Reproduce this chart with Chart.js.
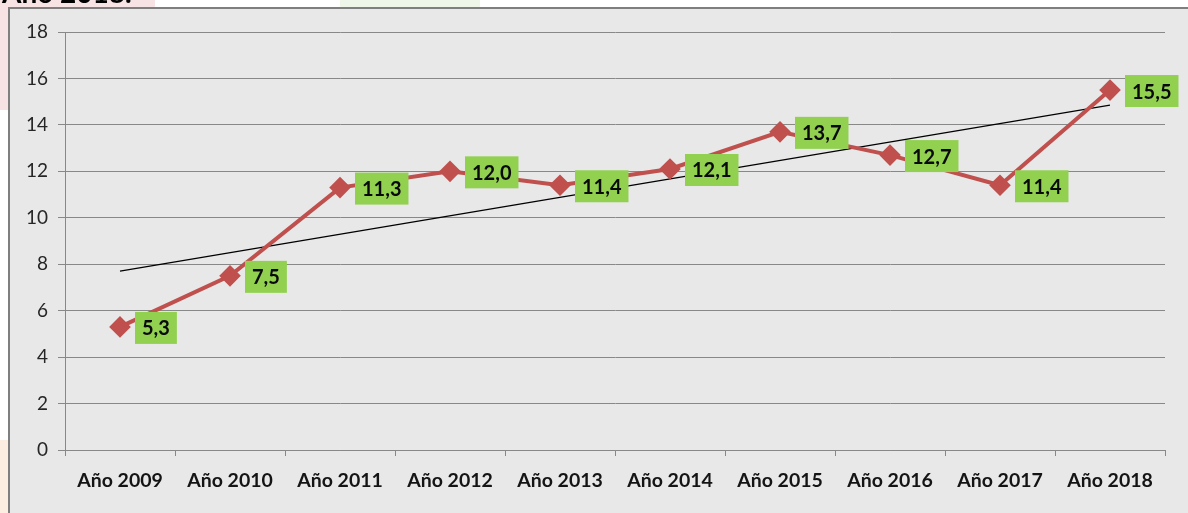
<!DOCTYPE html>
<html>
<head>
<meta charset="utf-8">
<script src="https://cdn.jsdelivr.net/npm/chart.js@4"></script>
<style>
  html, body { margin: 0; padding: 0; background: #ffffff; }
  #wrap { width: 1188px; height: 513px; position: relative; }
</style>
</head>
<body>
<div id="wrap"><canvas id="c" width="1188" height="513"></canvas></div>
<script>
const categories = ['Año 2009','Año 2010','Año 2011','Año 2012','Año 2013','Año 2014','Año 2015','Año 2016','Año 2017','Año 2018'];
const values = [5.3, 7.5, 11.3, 12.0, 11.4, 12.1, 13.7, 12.7, 11.4, 15.5];
const trendValues = [7.7, null, null, null, null, null, null, null, null, 14.85];
const valueLabels = ['5,3','7,5','11,3','12,0','11,4','12,1','13,7','12,7','11,4','15,5'];
const yTicks = [0, 2, 4, 6, 8, 10, 12, 14, 16, 18];
const titleText = 'Año 2018.';

const framePlugin = {
  id: 'frame',
  beforeDraw(chart) {
    const ctx = chart.ctx;
    ctx.save();
    ctx.fillStyle = '#ffffff';
    ctx.fillRect(0, 0, 1188, 513);
    // slide decoration behind
    ctx.fillStyle = '#f7e3e3';
    ctx.fillRect(0, 0, 155, 8);
    ctx.fillRect(0, 0, 9, 110);
    ctx.fillStyle = '#fcefe2';
    ctx.fillRect(0, 440, 9, 73);
    ctx.fillStyle = '#eef6ea';
    ctx.fillRect(340, 0, 140, 8);
    // frame
    ctx.fillStyle = '#e8e8e8';
    ctx.fillRect(9, 8, 1188, 513);
    ctx.strokeStyle = '#7f7f7f';
    ctx.lineWidth = 2;
    ctx.strokeRect(9, 8, 1200, 520);
    // title (cut at top)
    ctx.fillStyle = '#000000';
    ctx.font = 'bold 28px Lato, "DejaVu Sans", sans-serif';
    ctx.textBaseline = 'alphabetic';
    ctx.textAlign = 'left';
    ctx.fillText(titleText, 2, 3);
    ctx.restore();
  }
};

const labelPlugin = {
  id: 'valueLabels',
  afterDatasetsDraw(chart) {
    const ctx = chart.ctx;
    const meta = chart.getDatasetMeta(0);
    ctx.save();
    ctx.font = 'bold 20px Lato, "DejaVu Sans", sans-serif';
    ctx.textBaseline = 'middle';
    ctx.textAlign = 'left';
    meta.data.forEach((pt, i) => {
      const txt = valueLabels[i];
      const w = ctx.measureText(txt).width + 14;
      const h = 32;
      const x = pt.x + 15;
      const y = pt.y + 1 - h / 2;
      ctx.fillStyle = '#92d050';
      ctx.fillRect(x, y, w, h);
      ctx.fillStyle = '#0a0a0a';
      ctx.fillText(txt, x + 7, pt.y + 2);
    });
    ctx.restore();
  }
};

new Chart(document.getElementById('c'), {
  type: 'line',
  data: {
    labels: categories,
    datasets: [
      {
        data: values,
        borderColor: '#c0504d',
        backgroundColor: '#c0504d',
        borderWidth: 4,
        pointStyle: 'rectRot',
        pointRadius: 8,
        pointHoverRadius: 8,
        pointBackgroundColor: '#c0504d',
        pointBorderColor: '#c0504d',
        tension: 0,
        order: 1
      },
      {
        data: trendValues,
        borderColor: '#000000',
        borderWidth: 1.2,
        pointRadius: 0,
        spanGaps: true,
        tension: 0,
        order: 2
      }
    ]
  },
  options: {
    responsive: false,
    animation: false,
    devicePixelRatio: 1,
    layout: { padding: { left: 0, right: 23, top: 32, bottom: 0 } },
    plugins: { legend: { display: false }, tooltip: { enabled: false } },
    scales: {
      x: {
        offset: true,
        grid: { drawOnChartArea: false, drawTicks: true, tickLength: 6, offset: true, color: '#888888' },
        border: { color: '#888888', width: 1 },
        ticks: {
          color: '#141414',
          padding: 13,
          font: { family: 'Lato, "DejaVu Sans", sans-serif', size: 19.5, weight: 'bold' },
          maxRotation: 0
        },
        afterFit(scale) { scale.height = 63; }
      },
      y: {
        min: 0,
        max: 18,
        afterBuildTicks(scale) { scale.ticks = yTicks.map(v => ({ value: v })); },
        grid: { color: '#888888', lineWidth: 1, drawTicks: true, tickLength: 7 },
        border: { color: '#888888', width: 1 },
        ticks: {
          color: '#262626',
          padding: 10,
          font: { family: 'Lato, "DejaVu Sans", sans-serif', size: 19 }
        },
        afterFit(scale) { scale.width = 65; }
      }
    }
  },
  plugins: [framePlugin, labelPlugin]
});
</script>
</body>
</html>
